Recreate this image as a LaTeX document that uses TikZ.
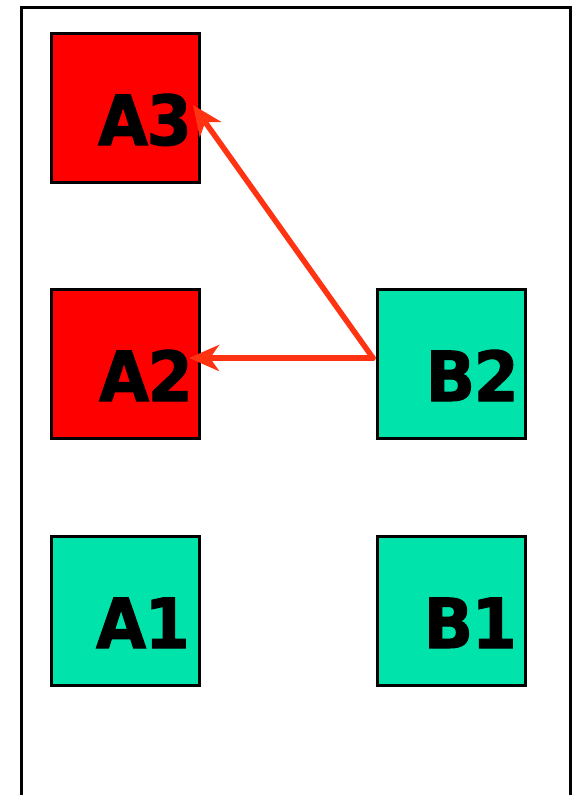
\documentclass[tikz,border=0pt]{standalone}
\usepackage{fontspec}
\newfontfamily\lblfont[FakeBold=1.5,FakeStretch=0.94]{DejaVu Sans}
\usetikzlibrary{arrows.meta}
\definecolor{boxred}{HTML}{FF0000}
\definecolor{boxteal}{HTML}{00E3AA}
\definecolor{arrred}{HTML}{FF3311}
\newcommand{\lbltext}[2]{#1\kern-1.5pt#2}
\begin{document}
\begin{tikzpicture}[x=1pt,y=-1pt,
  cell/.style={draw=black,line width=2.6pt,minimum size=148.5pt,inner sep=0pt,anchor=center},
  redcell/.style={cell,fill=boxred},
  tealcell/.style={cell,fill=boxteal},
  lbl/.style={font=\lblfont\bfseries\fontsize{69}{69}\selectfont,inner sep=0pt,anchor=base east},
  link/.style={draw=arrred,line width=5.5pt,line cap=round,-{Stealth[length=30pt,width=26pt,inset=9pt]}}]
\useasboundingbox (0,0) rectangle (575,795);
\draw[line width=3pt] (21,795) -- (21,7) -- (570,7) -- (570,795);
\node[redcell] (A3) at (125.5,108) {};
\node[redcell] (A2) at (125.5,364) {};
\node[tealcell] (A1) at (125.5,611) {};
\node[tealcell] (B2) at (451.5,364) {};
\node[tealcell] (B1) at (451.5,611) {};
\node[lbl] (A3t) at (192,145) {\lbltext{A}{3}};
\node[lbl] (A2t) at (193,401) {\lbltext{A}{2}};
\node[lbl] (A1t) at (190,648) {\lbltext{A}{1}};
\node[lbl] (B2t) at (519,401) {\lbltext{B}{2}};
\node[lbl] (B1t) at (517,648) {\lbltext{B}{1}};
\coordinate (src) at (373,358);
\coordinate (tA3) at (193,105);
\coordinate (tA2) at (189,358);
\draw[link] (src) -- (tA3);
\draw[link] (src) -- (tA2);
\end{tikzpicture}
\end{document}
